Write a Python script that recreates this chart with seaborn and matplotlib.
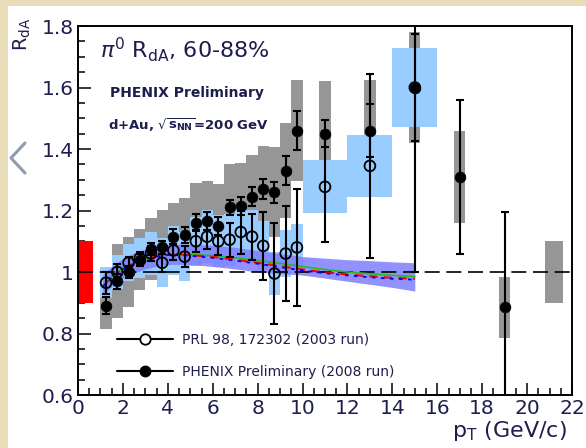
import matplotlib
matplotlib.use("Agg")
import matplotlib.pyplot as plt
from matplotlib.lines import Line2D
from matplotlib.patches import Rectangle
from matplotlib.ticker import MultipleLocator
import seaborn as sns

# ---------------- data ----------------
# 2008 run (PHENIX Preliminary): pT, R_dA, statistical and systematic errors
closed_pt = [1.25, 1.75, 2.25, 2.75, 3.25, 3.75, 4.25, 4.75, 5.25, 5.75, 6.25, 6.75,
             7.25, 7.75, 8.25, 8.75, 9.25, 9.75, 11.0, 13.0, 15.0, 17.0, 19.0]
closed_r = [0.89, 0.97, 1.00, 1.04, 1.075, 1.08, 1.115, 1.12, 1.16, 1.165, 1.15, 1.21,
            1.215, 1.245, 1.27, 1.26, 1.33, 1.46, 1.45, 1.46, 1.60, 1.31, 0.885]
closed_stat = [0.028, 0.025, 0.02, 0.02, 0.02, 0.022, 0.025, 0.025, 0.028, 0.03, 0.03, 0.025,
               0.03, 0.03, 0.033, 0.034, 0.046, 0.062, 0.045, 0.087, 0.175, 0.25, 0.31]
closed_sys = [0.075, 0.12, 0.115, 0.10, 0.10, 0.12, 0.11, 0.12, 0.13, 0.13, 0.135, 0.14,
              0.14, 0.135, 0.14, 0.145, 0.155, 0.165, 0.17, 0.165, 0.18, 0.15, 0.10]

# 2003 run (PRL 98, 172302)
open_pt = [1.25, 1.75, 2.25, 2.75, 3.25, 3.75, 4.25, 4.75, 5.25, 5.75, 6.25, 6.75,
           7.25, 7.75, 8.25, 8.75, 9.25, 9.75, 11.0, 13.0, 15.0]
open_r = [0.965, 1.00, 1.03, 1.045, 1.06, 1.03, 1.07, 1.05, 1.10, 1.115, 1.10, 1.105,
          1.13, 1.115, 1.085, 0.995, 1.06, 1.08, 1.277, 1.345, 1.60]
open_stat = [0.035, 0.025, 0.02, 0.02, 0.025, 0.03, 0.03, 0.035, 0.035, 0.04, 0.045, 0.055,
             0.07, 0.075, 0.11, 0.165, 0.155, 0.19, 0.18, 0.30, 0.60]
open_sys = [0.05, 0.055, 0.06, 0.065, 0.07, 0.08, 0.08, 0.08, 0.08, 0.085, 0.085, 0.085,
            0.085, 0.085, 0.08, 0.07, 0.075, 0.075, 0.086, 0.10, 0.13]

# global normalisation uncertainties
norm_open = 0.10
norm_closed = 0.10

# model curves and their uncertainty band
curve_pt = [1.1, 1.5, 2.0, 2.5, 3.0, 3.5, 4.0, 4.5, 5.0, 6.0, 7.0, 8.0, 9.0, 10.0,
            11.0, 12.0, 13.0, 14.0, 15.0]
curve_green = [0.955, 0.985, 1.012, 1.030, 1.043, 1.052, 1.057, 1.058, 1.057, 1.053, 1.046,
               1.038, 1.028, 1.018, 1.008, 1.000, 0.994, 0.989, 0.985]
curve_red = [0.953, 0.983, 1.010, 1.028, 1.042, 1.051, 1.056, 1.057, 1.055, 1.049, 1.040,
             1.030, 1.019, 1.008, 0.999, 0.992, 0.986, 0.981, 0.978]
curve_blue = [0.951, 0.981, 1.008, 1.027, 1.041, 1.050, 1.055, 1.055, 1.053, 1.046, 1.037,
              1.027, 1.016, 1.005, 0.996, 0.989, 0.983, 0.978, 0.975]
band_lo = [0.925, 0.953, 0.980, 0.997, 1.010, 1.019, 1.024, 1.025, 1.024, 1.018, 1.010,
           1.000, 0.995, 0.990, 0.980, 0.970, 0.960, 0.950, 0.938]
band_hi = [0.990, 1.018, 1.045, 1.062, 1.075, 1.085, 1.090, 1.091, 1.090, 1.087, 1.080,
           1.070, 1.060, 1.050, 1.045, 1.040, 1.037, 1.033, 1.030]

y_ticks = [0.6, 0.8, 1.0, 1.2, 1.4, 1.6, 1.8]
y_ticklabels = ["0.6", "0.8", "1", "1.2", "1.4", "1.6", "1.8"]
x_ticks = [0, 2, 4, 6, 8, 10, 12, 14, 16, 18, 20, 22]

legend_labels = ["PRL 98, 172302 (2003 run)", "PHENIX Preliminary (2008 run)"]

# ---------------- style ----------------
sns.set_theme(style="ticks")
plt.rcParams["font.family"] = ["DejaVu Sans"]
plt.rcParams["mathtext.fontset"] = "dejavusans"

TXT = "#1e1e4e"
GRAY = "#969696"
LBLUE = "#99ccff"
BAND = "#7f7fff"

fig = plt.figure(figsize=(5.86, 4.48), dpi=100)
fig.patch.set_facecolor("white")
beige = "#e9ddb9"
fig.add_artist(Rectangle((0, 0), 8 / 586, 1, transform=fig.transFigure,
                         color=beige, lw=0, zorder=0))
fig.add_artist(Rectangle((0, 1 - 6 / 448), 1, 6 / 448, transform=fig.transFigure,
                         color=beige, lw=0, zorder=0))
# side navigation chevron
fig.add_artist(Line2D([25 / 586, 11 / 586, 25 / 586],
                      [1 - 143 / 448, 1 - 158 / 448, 1 - 173 / 448],
                      transform=fig.transFigure, color="#8e9bb0", lw=2.2))

ax = fig.add_axes([78 / 586, 53 / 448, 494 / 586, 369 / 448])
ax.set_facecolor("white")

# systematic boxes
ax.bar(closed_pt, [2 * s for s in closed_sys],
       bottom=[r - s for r, s in zip(closed_r, closed_sys)],
       width=0.5, color=GRAY, linewidth=0, zorder=1)
open_w = [0.5 if p < 10 else 2.0 for p in open_pt]
ax.bar(open_pt, [2 * s for s in open_sys],
       bottom=[r - s for r, s in zip(open_r, open_sys)],
       width=open_w, color=LBLUE, linewidth=0, zorder=2)

# normalisation boxes
ax.bar([0.325], [2 * norm_open], bottom=[1 - norm_open], width=0.65,
       color="#ff0000", linewidth=0, zorder=2)
ax.bar([21.2], [2 * norm_closed], bottom=[1 - norm_closed], width=0.8,
       color=GRAY, linewidth=0, zorder=2)

# model band and curves
ax.fill_between(curve_pt, band_lo, band_hi, color=BAND, alpha=0.85, lw=0, zorder=3)
ax.axhline(1.0, color="black", lw=1.2, ls=(0, (9, 4)), zorder=4)
sns.lineplot(x=curve_pt, y=curve_green, ax=ax, color="#22bb22", lw=1.2, zorder=5)
sns.lineplot(x=curve_pt, y=curve_red, ax=ax, color="#ff0000", lw=1.5,
             linestyle=(0, (4, 3)), zorder=5)
sns.lineplot(x=curve_pt, y=curve_blue, ax=ax, color="#0000ff", lw=1.3,
             linestyle=(0, (2, 3)), zorder=5)

# statistical error bars and points
ax.errorbar(open_pt, open_r, yerr=open_stat, fmt="none", ecolor="black",
            elinewidth=1.5, capsize=3, capthick=1.5, zorder=6)
ax.errorbar(closed_pt, closed_r, yerr=closed_stat, fmt="none", ecolor="black",
            elinewidth=1.5, capsize=3, capthick=1.5, zorder=6)
sns.scatterplot(x=open_pt, y=open_r, ax=ax, s=60, facecolors="none",
                edgecolor="black", linewidth=1.3, zorder=7, legend=False)
sns.scatterplot(x=closed_pt, y=closed_r, ax=ax, s=60, color="black",
                edgecolor="black", linewidth=0.5, zorder=7, legend=False)

# axes
ax.set_xlim(0, 22)
ax.set_ylim(0.6, 1.8)
ax.set_xticks(x_ticks)
ax.set_xticklabels([str(t) for t in x_ticks])
ax.set_yticks(y_ticks)
ax.set_yticklabels(y_ticklabels)
ax.xaxis.set_minor_locator(MultipleLocator(0.5))
ax.yaxis.set_minor_locator(MultipleLocator(0.05))
ax.tick_params(which="both", direction="in", top=False, right=False,
               color="black", width=1.1, labelsize=14.5, labelcolor=TXT)
ax.tick_params(which="major", length=9, pad=3)
ax.tick_params(which="minor", length=5)
for sp in ax.spines.values():
    sp.set_visible(True)
    sp.set_color("black")
    sp.set_linewidth(1.4)
ax.set_xlabel("")
ax.set_ylabel("")

ax.text(-0.112, 1.022, r"R$_{\rm dA}$", transform=ax.transAxes, rotation=90,
        ha="center", va="top", fontsize=14, color=TXT)
ax.text(0.99, -0.114, r"p$_{\rm T}$ (GeV/c)", transform=ax.transAxes,
        ha="right", va="baseline", fontsize=16, color=TXT)

ax.text(0.045, 0.935, r"$\pi^0$ R$_{\rm dA}$, 60-88%", transform=ax.transAxes,
        ha="left", va="center", fontsize=16, color=TXT)
ax.text(0.065, 0.818, "PHENIX Preliminary", transform=ax.transAxes,
        ha="left", va="center", fontsize=10, fontweight="bold", color=TXT)
ax.text(0.061, 0.732, r"d+Au, $\mathbf{\sqrt{s_{NN}}}$=200 GeV", transform=ax.transAxes,
        ha="left", va="center", fontsize=9.5, fontweight="bold", color=TXT)

handles = [
    Line2D([], [], color="black", lw=1.5, marker="o", markersize=7.5,
           markerfacecolor="white", markeredgecolor="black", markeredgewidth=1.3),
    Line2D([], [], color="black", lw=1.5, marker="o", markersize=7.5,
           markerfacecolor="black", markeredgecolor="black"),
]
ax.legend(handles, legend_labels, loc="lower left", bbox_to_anchor=(0.079, 0.044),
          frameon=False, fontsize=10, labelcolor=TXT, handlelength=4.0,
          handletextpad=0.65, labelspacing=1.3, borderpad=0, borderaxespad=0,
          numpoints=1)

fig.savefig("out.png", dpi=100, facecolor=fig.get_facecolor())
